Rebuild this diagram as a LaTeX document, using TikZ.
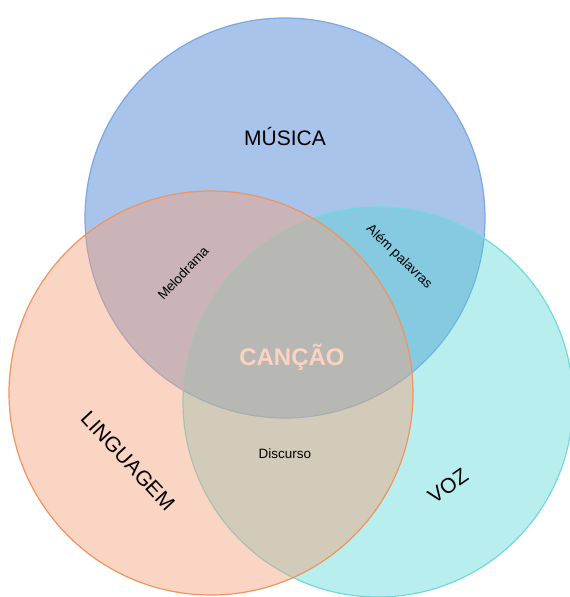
\documentclass[tikz,border=0pt]{standalone}
\usepackage{fontspec}
\setmainfont{Liberation Sans}
\usepackage{tikz}
\usetikzlibrary{positioning}
\definecolor{clMusica}{HTML}{A9C4EB}
\definecolor{clMusicaLine}{HTML}{7EA6E0}
\definecolor{clVoz}{HTML}{50D4D4}
\definecolor{clVozLine}{HTML}{70DADA}
\definecolor{clLing}{HTML}{F4A27C}
\definecolor{clLingLine}{HTML}{F2925F}
\definecolor{clCancao}{HTML}{FBD4C1}
\tikzset{
  venn/.style={circle, draw, line width=1.2pt, inner sep=0pt},
  musica/.style={venn, draw=clMusicaLine, fill=clMusica, minimum size=400pt},
  voz/.style={venn, draw=clVozLine, fill=clVoz, fill opacity=0.4, minimum size=390pt},
  linguagem/.style={venn, draw=clLingLine, fill=clLing, fill opacity=0.45, minimum size=404pt},
  setlabel/.style={font=\fontsize{21}{24}\selectfont, text=black},
  zonelabel/.style={font=\fontsize{13.5}{16}\selectfont, text=black},
}

\begin{document}
\begin{tikzpicture}[x=1pt, y=-1pt]
  \useasboundingbox (0,0) rectangle (570,597);
  % the three sets
  \node[musica] (cMusica) at (285,218) {};
  \node[voz] (cVoz) at (378,402) {};
  \node[linguagem] (cLing) at (211,393) {};
  % set names
  \node[setlabel] (tMusica) at (285,136) {MÚSICA};
  \node[setlabel, rotate=-47] (tLing) at (128,461) {LINGUAGEM};
  \node[setlabel, rotate=35] (tVoz) at (448,486) {VOZ};
  % overlaps
  \node[zonelabel, rotate=47] (tMelo) at (183,273) {Melodrama};
  \node[zonelabel, rotate=-44] (tAlem) at (399,257) {Além palavras};
  \node[zonelabel] (tDisc) at (285,454) {Discurso};
  \node[font=\fontsize{24}{28}\selectfont\bfseries, text=clCancao] (tCancao) at (292,357) {CANÇÃO};
\end{tikzpicture}
\end{document}
